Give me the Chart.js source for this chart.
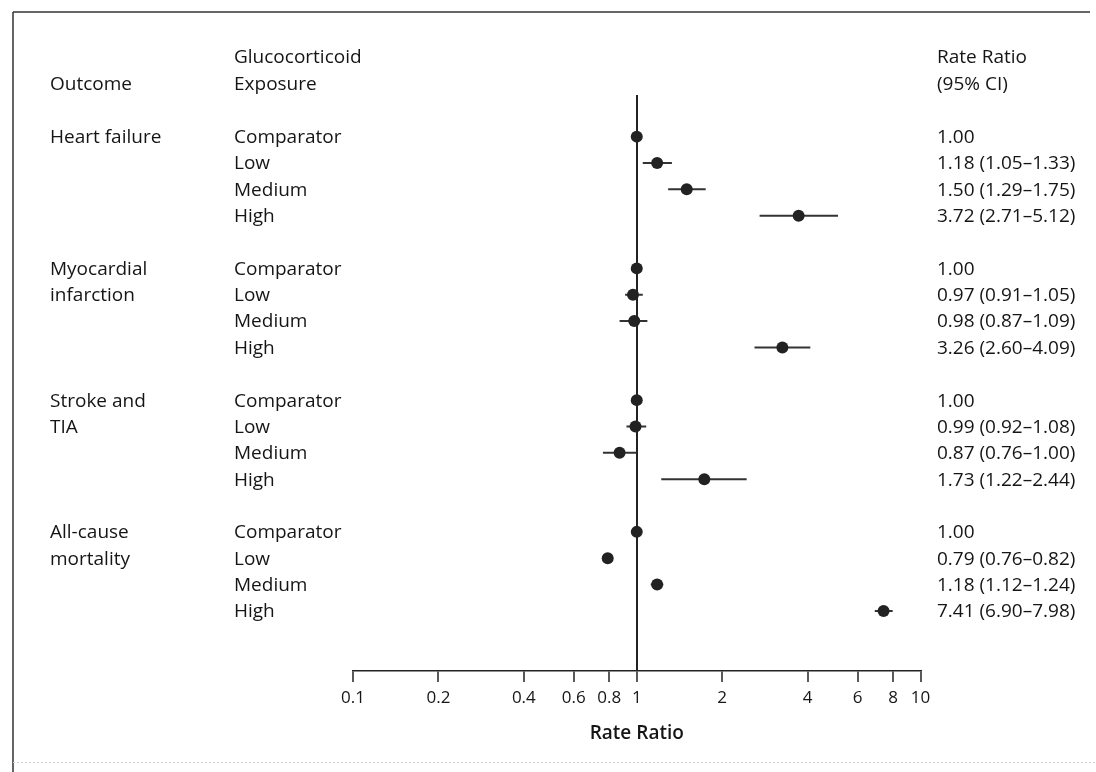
<!DOCTYPE html>
<html>
<head>
<meta charset="utf-8">
<script src="https://cdn.jsdelivr.net/npm/chart.js@4.4.1/dist/chart.umd.min.js"></script>
<style>
  html, body { margin: 0; padding: 0; background: #ffffff; }
  #wrap { width: 1096px; height: 772px; }
</style>
</head>
<body>
<div id="wrap"><canvas id="c" width="1096" height="772"></canvas></div>
<script>
// ---- Data ----
const outcomeLabels = [["Heart failure"], ["Myocardial", "infarction"], ["Stroke and", "TIA"], ["All-cause", "mortality"]];
const exposureLabels = ["Comparator", "Low", "Medium", "High"];

const rrHeartFailure = [1.00, 1.18, 1.50, 3.72];
const loHeartFailure = [null, 1.05, 1.29, 2.71];
const hiHeartFailure = [null, 1.33, 1.75, 5.12];

const rrMyocardial = [1.00, 0.97, 0.98, 3.26];
const loMyocardial = [null, 0.91, 0.87, 2.60];
const hiMyocardial = [null, 1.05, 1.09, 4.09];

const rrStroke = [1.00, 0.99, 0.87, 1.73];
const loStroke = [null, 0.92, 0.76, 1.22];
const hiStroke = [null, 1.08, 1.00, 2.44];

const rrMortality = [1.00, 0.79, 1.18, 7.41];
const loMortality = [null, 0.76, 1.12, 6.90];
const hiMortality = [null, 0.82, 1.24, 7.98];

const xTickValues = [0.1, 0.2, 0.4, 0.6, 0.8, 1, 2, 4, 6, 8, 10];
const xAxisTitle = "Rate Ratio";
const headerOutcome = "Outcome";
const headerExposure = ["Glucocorticoid", "Exposure"];
const headerRatio = ["Rate Ratio", "(95% CI)"];

// ---- Build rows ----
const groups = [
  { rr: rrHeartFailure, lo: loHeartFailure, hi: hiHeartFailure },
  { rr: rrMyocardial, lo: loMyocardial, hi: hiMyocardial },
  { rr: rrStroke, lo: loStroke, hi: hiStroke },
  { rr: rrMortality, lo: loMortality, hi: hiMortality }
];
const rows = [];
groups.forEach((g, gi) => {
  g.rr.forEach((v, k) => {
    rows.push({ row: gi * 5 + k, group: gi, k: k, rr: v, lo: g.lo[k], hi: g.hi[k] });
  });
});

const INK = '#151515';
const FONT = '"Open Sans", "Noto Sans", sans-serif';

const datasets = [];
datasets.push({
  label: 'points',
  data: rows.map(r => ({ x: r.rr, y: r.row })),
  backgroundColor: '#222222',
  borderWidth: 0,
  pointRadius: 6,
  pointHoverRadius: 6,
  showLine: false,
  order: 0
});
rows.filter(r => r.lo !== null).forEach(r => {
  datasets.push({
    label: 'ci' + r.row,
    data: [{ x: r.lo, y: r.row }, { x: r.hi, y: r.row }],
    borderColor: '#333333',
    borderWidth: 2,
    pointRadius: 0,
    showLine: true,
    order: 1
  });
});

function fmt(v) { return v.toFixed(2); }

const textPlugin = {
  id: 'forestText',
  beforeDraw(chart) {
    const ctx = chart.ctx;
    ctx.save();
    ctx.fillStyle = '#ffffff';
    ctx.fillRect(0, 0, chart.width, chart.height);
    ctx.restore();
  },
  afterDraw(chart) {
    const ctx = chart.ctx;
    const y = chart.scales.y;
    ctx.save();
    // frame
    ctx.strokeStyle = '#333333';
    ctx.lineWidth = 1.5;
    ctx.beginPath();
    ctx.moveTo(13, 12); ctx.lineTo(1090, 12);
    ctx.moveTo(13, 12); ctx.lineTo(13, 772);
    ctx.stroke();
    ctx.strokeStyle = '#cfcfcf';
    ctx.lineWidth = 1;
    ctx.setLineDash([2, 2]);
    ctx.beginPath();
    ctx.moveTo(13, 762.5); ctx.lineTo(1096, 762.5);
    ctx.stroke();
    ctx.setLineDash([]);

    ctx.fillStyle = INK;
    ctx.font = '500 19px ' + FONT;
    ctx.textBaseline = 'middle';
    ctx.textAlign = 'left';
    const xOut = 50, xExp = 234, xRR = 937;
    // headers
    ctx.fillText(headerOutcome, xOut, 85);
    ctx.fillText(headerExposure[0], xExp, 58);
    ctx.fillText(headerExposure[1], xExp, 85);
    ctx.fillText(headerRatio[0], xRR, 58);
    ctx.fillText(headerRatio[1], xRR, 85);
    // rows
    rows.forEach(r => {
      const py = y.getPixelForValue(r.row) + 1;
      const ol = outcomeLabels[r.group];
      if (r.k < ol.length) ctx.fillText(ol[r.k], xOut, py);
      ctx.fillText(exposureLabels[r.k], xExp, py);
      const t = r.lo === null ? fmt(r.rr) : fmt(r.rr) + ' (' + fmt(r.lo) + '\u2013' + fmt(r.hi) + ')';
      ctx.fillText(t, xRR, py);
    });
    ctx.restore();
  }
};

new Chart(document.getElementById('c'), {
  type: 'scatter',
  data: { datasets: datasets },
  plugins: [textPlugin],
  options: {
    responsive: false,
    animation: false,
    devicePixelRatio: 1,
    layout: { padding: { left: 353, right: 175.5, top: 95, bottom: 26.8 } },
    plugins: { legend: { display: false }, tooltip: { enabled: false } },
    scales: {
      x: {
        type: 'logarithmic',
        min: 0.1,
        max: 10,
        afterBuildTicks: (scale) => { scale.ticks = xTickValues.map(v => ({ value: v })); },
        ticks: {
          autoSkip: false,
          maxRotation: 0,
          padding: 6,
          color: INK,
          font: { family: FONT, size: 17 },
          callback: (v) => String(v)
        },
        grid: {
          drawOnChartArea: true,
          color: (c) => (c.tick && c.tick.value === 1) ? '#222222' : 'rgba(0,0,0,0)',
          lineWidth: 2,
          tickColor: '#222222',
          tickWidth: 1.5,
          tickLength: 11
        },
        border: { display: true, color: '#222222', width: 1.5 },
        title: {
          display: true,
          text: xAxisTitle,
          color: INK,
          font: { family: FONT, size: 19, weight: '600' },
          padding: { top: 8, bottom: 0 }
        }
      },
      y: {
        type: 'linear',
        min: -1.58,
        max: 20.28,
        reverse: true,
        display: false
      }
    }
  }
});
</script>
</body>
</html>
